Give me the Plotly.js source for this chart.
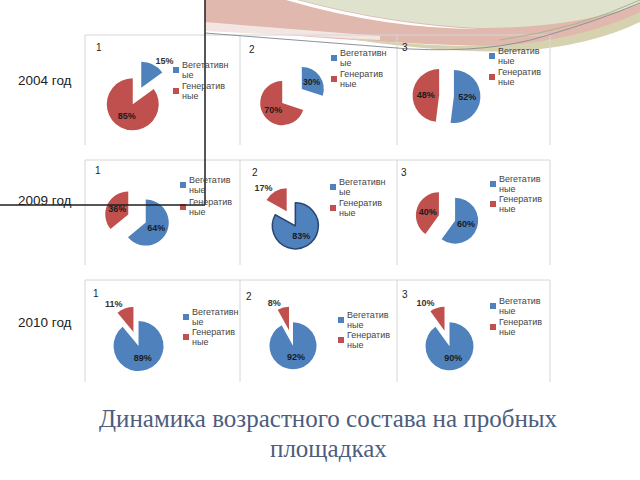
<!DOCTYPE html>
<html><head><meta charset="utf-8">
<script src="https://cdn.plot.ly/plotly-3.0.1.min.js"></script>
<style>html,body{margin:0;padding:0;background:#fff}#chart{width:640px;height:480px}</style>
</head><body><div id="chart"></div>
<script>
// ---------------- data ----------------
const years = ['2004 год', '2009 год', '2010 год'];
const plotNumbers = ['1', '2', '3'];
const seriesNames = ['Вегетативные', 'Генеративные'];
const vegetative2004 = [15, 30, 52];
const generative2004 = [85, 70, 48];
const vegetative2009 = [64, 83, 60];
const generative2009 = [36, 17, 40];
const vegetative2010 = [89, 92, 90];
const generative2010 = [11, 8, 10];
const titleLines = ['Динамика возрастного состава на пробных', 'площадках'];

const vegetative = [vegetative2004, vegetative2009, vegetative2010];
const generative = [generative2004, generative2009, generative2010];

// ---------------- style / layout (pixels) ----------------
const W = 640, H = 480;
const px = x => x / W, py = y => 1 - y / H;
const colors = ['#4F81BD', '#C0504D'];
const sans = 'Liberation Sans, Arial, sans-serif';
// pie centre x, centre y, radius, pull
const pieGeom = [
  [[137, 96, 26, 0.36], [292, 96, 22, 0.55], [446.5, 96, 26.5, 0.28]],
  [[137, 218.5, 23, 0.42], [291, 218.5, 23, 0.37], [447, 218, 23, 0.37]],
  [[136, 339, 25, 0.30], [291, 338, 23.5, 0.34], [447, 338.5, 24, 0.34]]
];
// which slice label sits outside (-1 none)
const outsideSlice = [[0, -1, -1], [-1, 1, -1], [1, 1, 1]];
// legend: marker x, first item y, second item y, break index of first name
const legendGeom = [
  [[176, 70, 91, 10], [334, 58, 79, 10], [492, 56, 77, 9]],
  [[183, 185, 207, 9], [333, 187, 208, 10], [493, 184, 204, 9]],
  [[186, 317, 337, 10], [341, 320, 340, 9], [493, 306, 327, 9]]
];
const numberPos = [
  [[99, 48], [252, 50], [405, 48]],
  [[98, 170], [255, 173], [404, 172]],
  [[96, 293], [249, 296], [405, 294]]
];
const rowLabelY = [81, 201, 322];
const rowTop = [35, 160, 280], rowBottom = [145, 265, 382];
const colX = [85, 240, 397, 550];

function pathPx(s) {
  return s.replace(/(-?[\d.]+),(-?[\d.]+)/g, (m, x, y) => px(+x) + ',' + py(+y));
}

const data = [];
const annotations = [];
const shapes = [];

// decorative bands at the top
shapes.push({type: 'path', xref: 'paper', yref: 'paper', layer: 'below',
  path: pathPx('M205,0 L640,0 L640,16 Q570,46 480,46 Q340,42 205,27 Z'),
  fillcolor: '#e0b8ae', line: {width: 0}});
shapes.push({type: 'path', xref: 'paper', yref: 'paper', layer: 'below',
  path: pathPx('M330,36 Q450,50 520,44 Q590,36 640,12 L640,22 Q590,46 520,51 Q440,54 330,36 Z'),
  fillcolor: '#d6d1ae', line: {width: 0}});
shapes.push({type: 'path', xref: 'paper', yref: 'paper', layer: 'below',
  path: pathPx('M300,0 L640,0 L640,4 Q575,28 480,28 Q390,24 300,0 Z'),
  fillcolor: '#dfe3cd', line: {width: 0}});
shapes.push({type: 'path', xref: 'paper', yref: 'paper', layer: 'below',
  path: pathPx('M286,0 L297,0 Q390,25 480,29 Q385,29 286,0 Z'),
  fillcolor: '#ffffff', line: {width: 0}});
shapes.push({type: 'path', xref: 'paper', yref: 'paper', layer: 'below',
  path: pathPx('M205,22 Q300,30 380,36 L380,40 Q300,36 205,31 Z'),
  fillcolor: '#f3e5e1', line: {width: 0}});

// panel borders
for (let r = 0; r < 3; r++) {
  shapes.push({type: 'line', xref: 'paper', yref: 'paper', x0: px(colX[0]), x1: px(colX[3]),
    y0: py(rowTop[r]), y1: py(rowTop[r]), line: {color: '#d6d6d6', width: 1}, layer: 'below'});
  for (let c = 0; c < 4; c++) {
    shapes.push({type: 'line', xref: 'paper', yref: 'paper', x0: px(colX[c]), x1: px(colX[c]),
      y0: py(rowTop[r]), y1: py(rowBottom[r]), line: {color: '#d6d6d6', width: 1}, layer: 'below'});
  }
}
// thin grey swoosh lines
shapes.push({type: 'path', xref: 'paper', yref: 'paper', layer: 'above',
  path: pathPx('M205,33 Q320,42 410,49 Q490,53 545,36 Q600,20 640,3'),
  line: {color: '#8d929c', width: 1}});
shapes.push({type: 'path', xref: 'paper', yref: 'paper', layer: 'above',
  path: pathPx('M500,40 Q580,28 640,0'),
  line: {color: '#a8b58a', width: 1}});

for (let r = 0; r < 3; r++) {
  annotations.push({xref: 'paper', yref: 'paper', x: px(16), y: py(rowLabelY[r]),
    xanchor: 'left', yanchor: 'middle', showarrow: false, text: years[r],
    font: {family: sans, size: 13.5, color: '#222'}});
  for (let c = 0; c < 3; c++) {
    const [cx, cy, rad, pull] = pieGeom[r][c];
    const half = rad * (1 + pull);
    const vals = [vegetative[r][c], generative[r][c]];
    const tp = [0, 1].map(i => outsideSlice[r][c] === i ? 'outside' : 'inside');
    const lw = (r === 1 && c === 1) ? [1.5, 0] : [0, 0];
    data.push({
      type: 'pie', values: vals, labels: seriesNames, sort: false,
      direction: 'clockwise', rotation: 0, pull: [pull, pull],
      domain: {x: [px(cx - half), px(cx + half)], y: [py(cy + half), py(cy - half)]},
      marker: {colors: colors, line: {color: '#26466f', width: lw}},
      texttemplate: '%{percent:.0%}', textposition: tp,
      insidetextorientation: 'horizontal',
      insidetextfont: {family: sans, size: 9, color: '#1b1b1b', weight: 'bold'},
      outsidetextfont: {family: sans, size: 9, color: '#333', weight: 'bold'},
      hoverinfo: 'label+percent', showlegend: false
    });
    // panel number
    annotations.push({xref: 'paper', yref: 'paper', x: px(numberPos[r][c][0]), y: py(numberPos[r][c][1]),
      xanchor: 'center', yanchor: 'middle', showarrow: false, text: plotNumbers[c],
      font: {family: sans, size: 10, color: '#222'}});
    // legend (marker + name broken over two lines)
    const [mx, y1, y2, brk] = legendGeom[r][c];
    const parts = [[seriesNames[0].slice(0, brk), seriesNames[0].slice(brk)],
                   [seriesNames[1].slice(0, 9), seriesNames[1].slice(9)]];
    [y1, y2].forEach((yy, i) => {
      shapes.push({type: 'rect', xref: 'paper', yref: 'paper', x0: px(mx - 3), x1: px(mx + 3),
        y0: py(yy + 3), y1: py(yy - 3), fillcolor: colors[i], line: {width: 0}});
      parts[i].forEach((t, k) => {
        annotations.push({xref: 'paper', yref: 'paper', x: px(mx + 4), y: py(yy + (k ? 5.3 : -5.3)),
          xanchor: 'left', yanchor: 'middle', align: 'left', showarrow: false, text: t,
          font: {family: sans, size: 9, color: '#444'}});
      });
    });
  }
}

// black frame lines
shapes.push({type: 'line', xref: 'paper', yref: 'paper', x0: px(205), x1: px(205), y0: py(0), y1: py(205),
  line: {color: '#1e1e1e', width: 1.5}});
shapes.push({type: 'line', xref: 'paper', yref: 'paper', x0: px(0), x1: px(205), y0: py(205), y1: py(205),
  line: {color: '#1e1e1e', width: 1.5}});

// slide title (two lines)
[418, 448].forEach((yy, i) => {
  annotations.push({xref: 'paper', yref: 'paper', x: px(328), y: py(yy), xanchor: 'center', yanchor: 'middle',
    showarrow: false, text: titleLines[i],
    font: {family: 'Liberation Serif, Times New Roman, serif', size: 25, color: '#4d5d7e'}});
});

const layout = {
  width: W, height: H, margin: {l: 0, r: 0, t: 0, b: 0},
  paper_bgcolor: '#ffffff', plot_bgcolor: '#ffffff', showlegend: false,
  shapes: shapes, annotations: annotations
};
Plotly.newPlot('chart', data, layout, {displayModeBar: false, staticPlot: true});
</script></body></html>
